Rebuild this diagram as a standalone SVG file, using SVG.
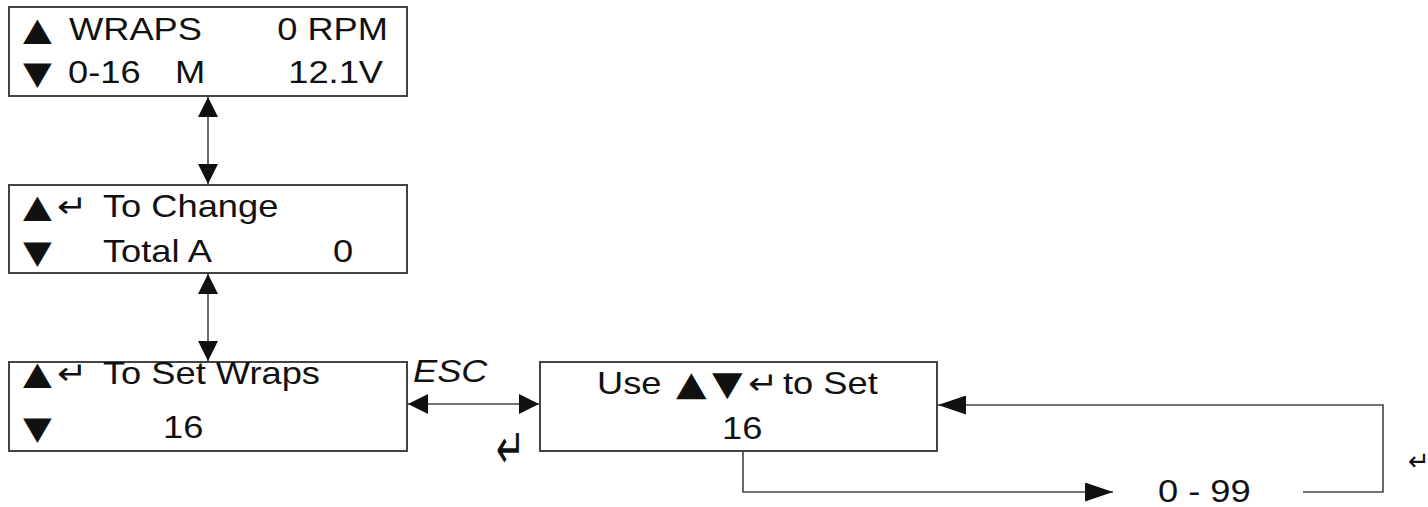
<svg xmlns="http://www.w3.org/2000/svg" width="1428" height="507" viewBox="0 0 1428 507">
<style>
.box{fill:#fff;stroke:#444;stroke-width:2}
.t{font-family:"Liberation Sans",Arial,sans-serif;font-size:31px;fill:#111}
.s{font-family:"DejaVu Sans","Liberation Sans",sans-serif;font-size:32px;fill:#111}
.it{font-style:italic}
.ln{fill:none;stroke:#444;stroke-width:1.6}
</style>
<defs>
<marker id="ah" viewBox="0 0 20 20" refX="20" refY="10" markerWidth="20" markerHeight="20" markerUnits="userSpaceOnUse" orient="auto-start-reverse">
<path d="M0,0 L20,10 L0,20 Z" fill="#111"/>
</marker>
<marker id="ahl" viewBox="0 0 28 19" refX="28" refY="9.5" markerWidth="28" markerHeight="19" markerUnits="userSpaceOnUse" orient="auto-start-reverse">
<path d="M0,0 L28,9.5 L0,19 Z" fill="#111"/>
</marker>
</defs>
<rect width="1428" height="507" fill="#fff"/>
<g id="connectors">
<line class="ln" x1="208" y1="97" x2="208" y2="184" marker-start="url(#ah)" marker-end="url(#ah)"/>
<line class="ln" x1="208" y1="274" x2="208" y2="361" marker-start="url(#ah)" marker-end="url(#ah)"/>
<line class="ln" x1="408" y1="404" x2="539" y2="404" marker-start="url(#ah)" marker-end="url(#ah)"/>
<polyline class="ln" points="743,452 743,492 1113,492" marker-end="url(#ahl)"/>
<polyline class="ln" points="1303,492 1383,492 1383,405 938,405" marker-end="url(#ahl)"/>
</g>
<g id="n1">
<rect class="box" x="9" y="7" width="398" height="89"/>
<text class="s" transform="translate(23,40) scale(1.17,1)">▲</text>
<text class="t" transform="translate(69,40) scale(1.17,1)">WRAPS</text>
<text class="t" text-anchor="end" transform="translate(388,40) scale(1.17,1)">0 RPM</text>
<text class="s" transform="translate(23,84) scale(1.17,1)">▼</text>
<text class="t" transform="translate(68,83) scale(1.17,1)">0-16</text>
<text class="t" transform="translate(175,83) scale(1.17,1)">M</text>
<text class="t" text-anchor="end" transform="translate(383,83) scale(1.17,1)">12.1V</text>
</g>
<g id="n2">
<rect class="box" x="9" y="185" width="398" height="88"/>
<text class="s" transform="translate(23,217) scale(1.17,1)">▲</text>
<text class="t" transform="translate(57,217) scale(1.17,1)">↵</text>
<text class="t" transform="translate(103,217) scale(1.17,1)">To Change</text>
<text class="s" transform="translate(23,263) scale(1.17,1)">▼</text>
<text class="t" transform="translate(103,262) scale(1.17,1)">Total A</text>
<text class="t" transform="translate(333,262) scale(1.17,1)">0</text>
</g>
<g id="n3">
<rect class="box" x="9" y="362" width="398" height="89"/>
<text class="s" transform="translate(23,384) scale(1.17,1)">▲</text>
<text class="t" transform="translate(57,384) scale(1.17,1)">↵</text>
<text class="t" transform="translate(103,384) scale(1.17,1)">To Set Wraps</text>
<text class="s" transform="translate(23,439) scale(1.17,1)">▼</text>
<text class="t" transform="translate(163,438) scale(1.17,1)">16</text>
</g>
<g id="n4">
<rect class="box" x="540" y="362" width="397" height="89"/>
<text class="t" transform="translate(597,394) scale(1.17,1)">Use</text>
<text class="s" style="font-size:34px" transform="translate(676,395) scale(1.17,1)">▲</text>
<text class="s" style="font-size:34px" transform="translate(712,395) scale(1.17,1)">▼</text>
<text class="t" transform="translate(748,394) scale(1.17,1)">↵</text>
<text class="t" transform="translate(783,394) scale(1.17,1)">to Set</text>
<text class="t" transform="translate(722,439) scale(1.17,1)">16</text>
</g>
<g id="labels">
<text class="t it" transform="translate(413,382) scale(1.17,1)">ESC</text>
<text class="t" style="font-size:30px" transform="translate(496,468) scale(1.15,1.85)">↵</text>
<text class="t" transform="translate(1158,502) scale(1.17,1)">0 - 99</text>
<text class="t" style="font-size:26px" transform="translate(1408,470)">↵</text>
</g>
</svg>
